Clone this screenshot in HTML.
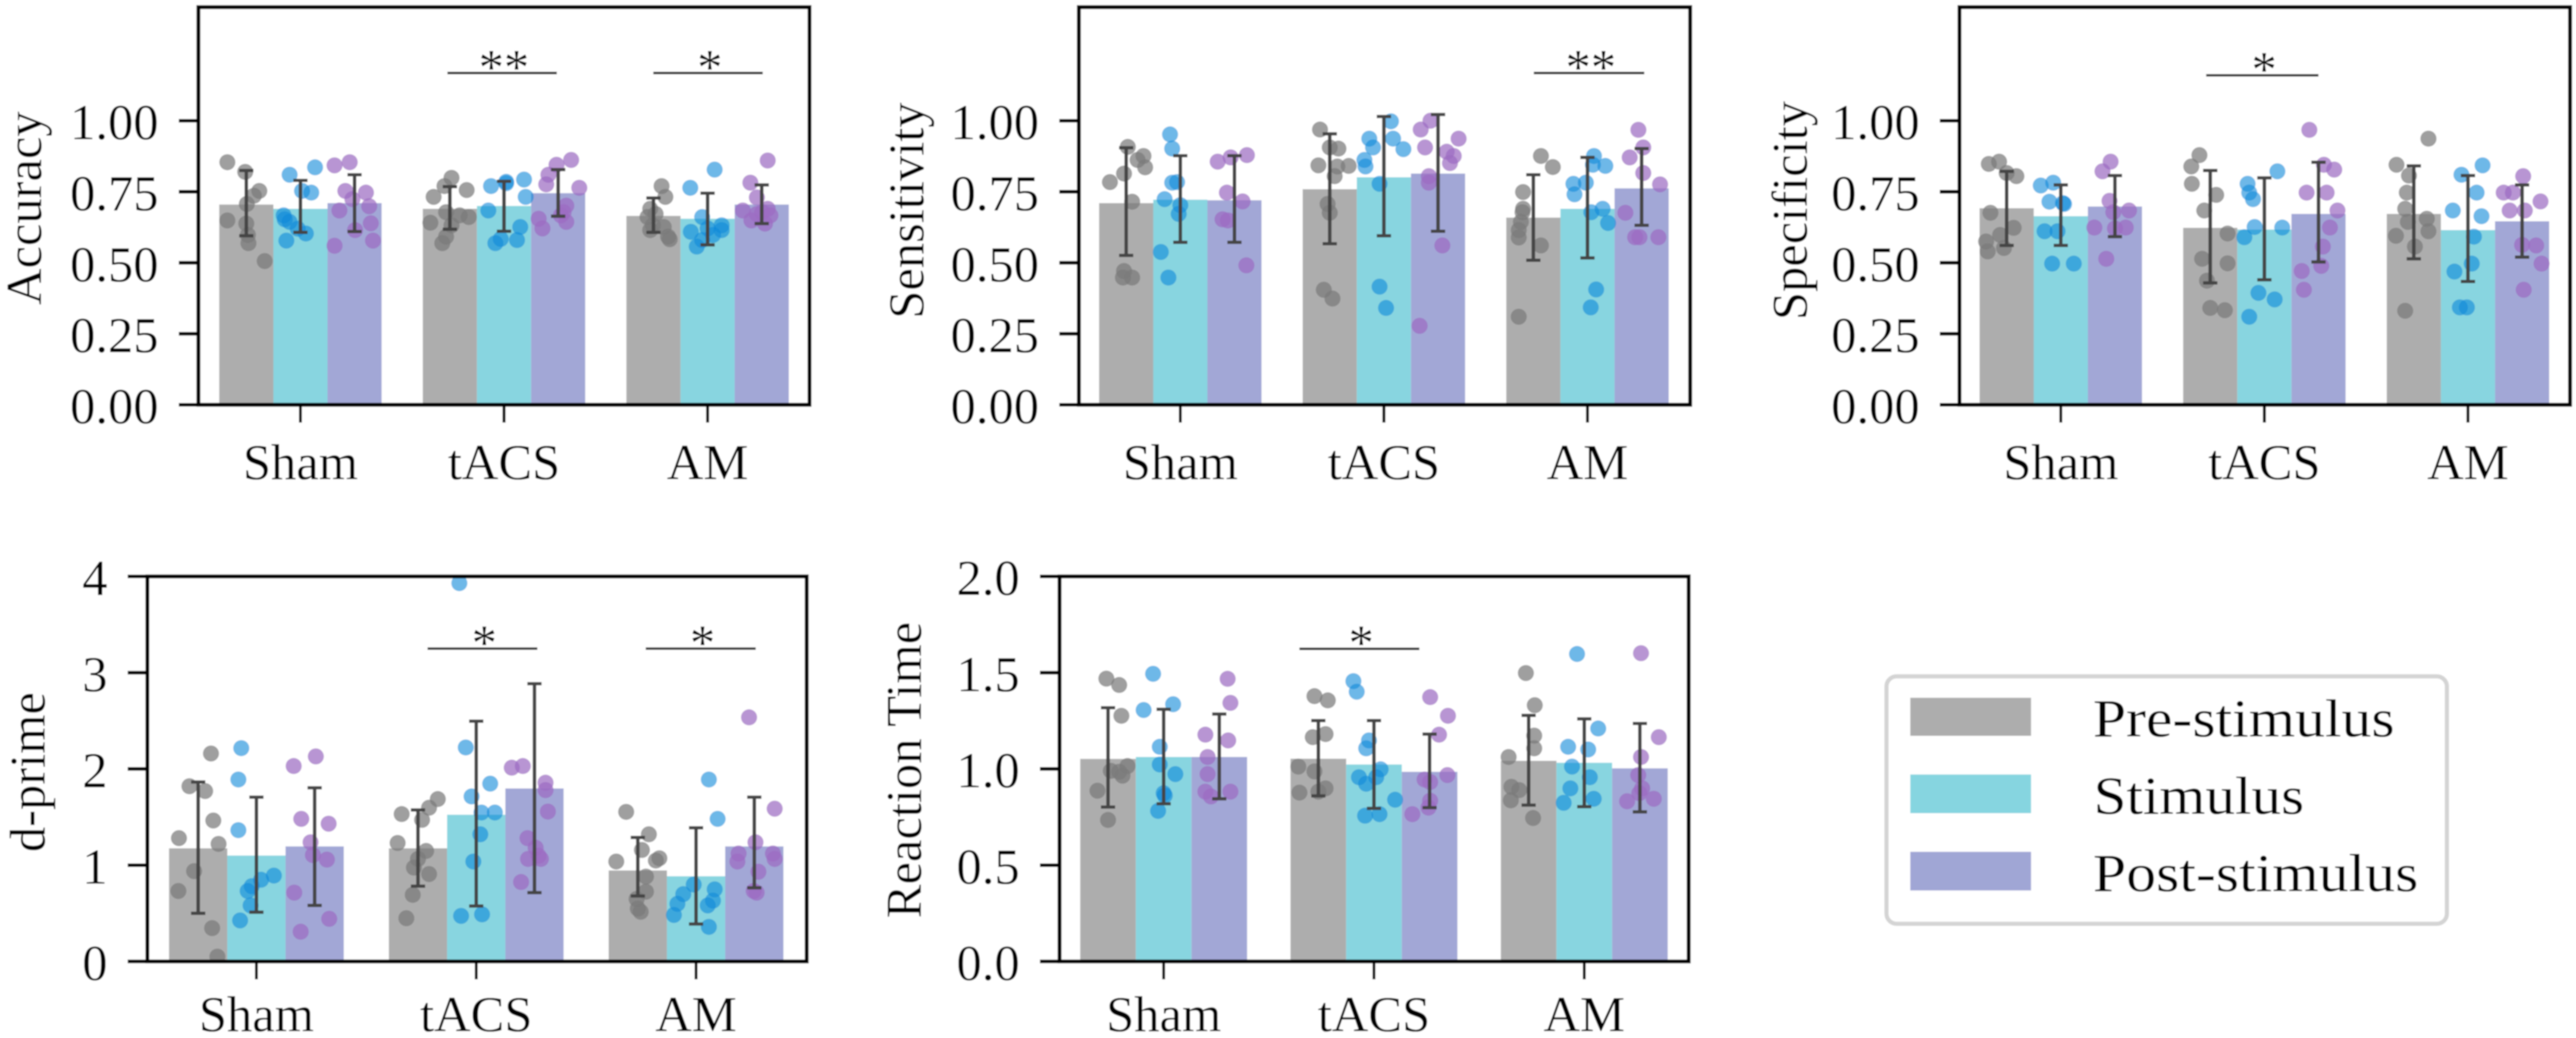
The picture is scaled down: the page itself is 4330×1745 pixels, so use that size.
<!DOCTYPE html>
<html lang="en">
<head>
<meta charset="utf-8">
<title>Behavioural metrics by stimulation condition</title>
<style>
html,body{margin:0;padding:0;background:#fff;width:4330px;height:1745px;overflow:hidden}
svg{display:block;font-family:"Liberation Serif","Times New Roman",serif;fill:#000}
</style>
</head>
<body>
<svg id="figure" xmlns="http://www.w3.org/2000/svg" width="4330" height="1745" viewBox="0 0 4330 1745">
  <defs><filter id="soft" x="0" y="0" width="100%" height="100%" filterUnits="objectBoundingBox"><feGaussianBlur stdDeviation="1"/></filter></defs>
  <rect x="0" y="0" width="4330" height="1745" fill="#fff"/>
  <g filter="url(#soft)">
  <rect x="0" y="0" width="4330" height="1745" fill="#fff"/>
  <g id="charts"></g>
  <g>
    <rect x="3171" y="1137" width="942" height="416" rx="17" ry="17" fill="#fff" stroke="#d4d4d4" stroke-width="7"/>
    <rect x="3211" y="1173" width="203" height="64" fill="#adadad"/>
    <rect x="3211" y="1302" width="203" height="65" fill="#86d5e0"/>
    <rect x="3211" y="1432" width="203" height="65" fill="#a0a6d5"/>
    <text x="3518" y="1238" font-size="90" textLength="507" lengthAdjust="spacingAndGlyphs">Pre-stimulus</text>
    <text x="3519" y="1368" font-size="90" textLength="354" lengthAdjust="spacingAndGlyphs">Stimulus</text>
    <text x="3518" y="1498" font-size="90" textLength="547" lengthAdjust="spacingAndGlyphs">Post-stimulus</text>
  </g>
  </g>
</svg>
<script>
const categories = ['Sham', 'tACS', 'AM'];
const conditions = ['pre-stimulus', 'stimulus', 'post-stimulus'];
const ticksUnit = ['0.00', '0.25', '0.50', '0.75', '1.00'];
const ticksDprime = ['0', '1', '2', '3', '4'];
const ticksRt = ['0.0', '0.5', '1.0', '1.5', '2.0'];

/* Each means/errors array is ordered group by group: Sham, tACS, AM; each with pre, stim, post. */
const accuracyMeans = [.705,.69,.71, .69,.70,.745, .665,.655,.705];
const accuracyErrHigh = [.825,.79,.81, .768,.787,.828, .728,.745,.774];
const accuracyErrLow = [.595,.607,.61, .618,.611,.664, .607,.563,.638];
const accuracyPointValues = [
 [.854,.82,.753,.736,.707,.649,.638,.569,.506,.598],
 [.81,.836,.753,.747,.667,.644,.578,.603,.62,.653],
 [.843,.854,.753,.747,.724,.699,.684,.639,.615,.578,.56],
 [.799,.732,.77,.756,.678,.667,.661,.641,.632,.592,.569],
 [.77,.785,.793,.732,.684,.626,.58,.569,.584,.78],
 [.862,.845,.81,.776,.764,.701,.678,.644,.655,.621,.667],
 [.77,.732,.69,.661,.632,.626,.615,.592,.583,.672],
 [.828,.764,.661,.632,.609,.598,.58,.557,.615,.621],
 [.86,.782,.73,.684,.69,.672,.649,.638,.678,.667]
];
const accuracyPointJitter = [
 [-.35,-.02,.24,.14,.01,-.35,0,.04,.34,.03],
 [-.2,.27,.03,.2,-.31,-.2,-.26,.1,-.05,-.29],
 [-.37,-.09,-.17,.21,-.04,.27,-.28,.3,.01,.34,-.37],
 [.03,-.3,-.1,.31,-.07,.18,.35,-.36,.03,-.07,-.14],
 [-.24,.04,.37,.4,-.29,.3,.24,-.16,-.06,.04],
 [.24,-.03,-.18,-.22,.39,.15,.1,.15,-.36,-.29,.05],
 [.15,.22,-.06,-.11,-.01,.19,-.06,.27,.3,.04],
 [.13,-.32,-.1,.26,-.31,.1,-.1,-.2,.26,0],
 [.11,-.21,-.09,-.35,.11,-.09,-.19,.06,.01,.16]
];

const sensitivityMeans = [.71,.722,.72, .759,.801,.814, .659,.69,.762];
const sensitivityErrHigh = [.905,.877,.877, .954,1.015,1.022, .81,.871,.902];
const sensitivityErrLow = [.526,.572,.572, .567,.595,.611, .509,.517,.632];
const sensitivityPointValues = [
 [.908,.876,.862,.836,.814,.784,.715,.471,.448,.448],
 [.952,.902,.784,.782,.724,.703,.672,.538,.448],
 [.879,.871,.856,.747,.716,.653,.649,.491],
 [.969,.906,.902,.843,.839,.841,.805,.707,.676,.405,.374],
 [.998,.937,.937,.906,.9,.862,.839,.778,.416,.341],
 [1.0,.969,.937,.906,.891,.876,.851,.805,.782,.561,.278],
 [.876,.837,.749,.69,.678,.644,.615,.589,.561,.31],
 [.876,.841,.845,.778,.782,.741,.69,.678,.64,.406,.343],
 [.968,.906,.871,.816,.776,.676,.59,.59,.59]
];
const sensitivityPointJitter = [
 [.03,.32,.21,.35,-.04,-.3,.11,-.04,.11,-.06],
 [-.19,-.15,-.06,-.15,-.29,0,-.03,-.36,-.22],
 [.23,-.07,-.31,-.14,.15,-.22,-.12,.22],
 [-.18,0,.16,-.21,.14,.35,.09,-.04,0,-.11,.05],
 [.13,-.27,.17,-.2,.36,-.36,-.34,-.08,-.08,.04],
 [-.14,-.32,.38,-.24,.16,.29,.22,-.17,-.17,.08,-.34],
 [.14,.36,-.19,-.19,-.2,-.23,-.27,-.27,.14,-.27],
 [.12,.33,.1,-.26,-.03,-.24,.28,.07,.38,.16,.06],
 [-.06,.03,-.22,.03,.34,-.3,-.04,.31,-.12]
];

const specificityMeans = [.692,.664,.698, .623,.617,.672, .672,.615,.646];
const specificityErrHigh = [.822,.774,.807, .825,.799,.854, .841,.807,.774];
const specificityErrLow = [.561,.561,.592, .429,.44,.503, .514,.434,.52];
const specificityPointValues = [
 [.848,.856,.805,.816,.676,.623,.598,.575,.54,.552],
 [.772,.782,.715,.71,.611,.611,.497,.497,.707],
 [.856,.822,.718,.684,.678,.624,.624,.621,.514],
 [.879,.839,.778,.739,.684,.603,.514,.498,.437,.341,.333],
 [.822,.778,.747,.724,.624,.626,.59,.394,.371,.31],
 [.968,.845,.828,.747,.747,.684,.624,.557,.489,.471,.405],
 [.937,.845,.807,.747,.69,.655,.644,.611,.595,.557,.331],
 [.843,.81,.747,.684,.664,.592,.497,.469,.343,.343],
 [.805,.747,.747,.716,.684,.684,.561,.563,.497,.405]
];
const specificityPointJitter = [
 [-.33,-.14,.18,0,-.3,.13,-.12,-.38,-.35,-.05],
 [-.37,-.14,-.21,.04,-.3,-.06,-.16,.24,.06],
 [-.08,-.23,-.1,.26,-.03,-.38,.2,0,-.16],
 [-.2,-.35,-.34,.11,-.11,.32,-.15,.32,-.06,0,.27],
 [.24,-.31,-.28,-.21,.33,-.18,-.37,-.11,.19,-.28],
 [-.17,.1,.29,-.22,.15,.35,.21,.08,.05,-.31,-.27],
 [.27,-.32,-.09,-.13,-.16,.24,-.11,.27,-.33,.02,-.16],
 [.27,-.12,.16,-.28,.25,.11,.07,-.25,-.15,-.02],
 [.02,-.34,-.17,.34,-.23,.05,.26,0,.36,.03]
];

const dprimeMeans = [1.175,1.10,1.195, 1.175,1.524,1.797, .945,.885,1.195];
const dprimeErrHigh = [1.864,1.707,1.804, 1.574,2.496,2.885, 1.288,1.388,1.707];
const dprimeErrLow = [.5,.512,.582, .782,.576,.715, .68,.389,.765];
const dprimePointValues = [
 [2.16,1.82,1.77,1.464,1.281,1.221,.938,.732,.346,.05],
 [2.216,1.89,1.364,.892,.849,.782,.732,.582,.426],
 [2.13,2.03,1.481,1.431,1.238,1.105,1.058,.715,.443,.309],
 [1.687,1.597,1.531,1.471,1.231,1.148,1.065,.975,.908,.692,.449],
 [3.93,2.223,1.847,1.714,1.547,1.547,1.321,1.038,.473,.489],
 [2.03,2.013,1.857,1.78,1.557,1.281,1.181,1.098,1.065,1.065,.825],
 [1.554,1.321,1.158,1.038,1.072,1.048,.882,.725,.649,.549,.516],
 [1.89,1.481,.799,.749,.699,.599,.632,.582,.483,.359],
 [2.536,1.587,1.238,1.121,1.121,1.038,1.065,.932,.732,.715]
];
const dprimePointJitter = [
 [.22,-.15,.12,.26,-.33,.35,-.07,-.34,.24,.33],
 [-.26,-.31,-.31,.3,.08,-.08,-.15,-.1,-.28],
 [.02,-.36,-.23,.24,-.07,-.03,.21,-.35,.25,-.24],
 [.34,.19,-.28,.07,-.35,.14,0,-.07,.19,-.09,-.2],
 [-.29,-.18,.24,-.08,.09,.32,.07,-.05,-.26,.1],
 [-.2,-.39,.19,.19,.23,-.12,.02,.07,-.11,.11,-.23],
 [-.2,.19,.07,-.37,.37,.31,.14,.14,-.02,0,.05],
 [.22,.37,-.04,.32,-.22,-.32,.29,.2,-.38,.22],
 [-.09,.35,.02,-.27,.32,-.29,.35,.07,-.01,.04]
];

const reactionMeans = [1.052,1.062,1.062, 1.053,1.023,.985, 1.042,1.032,1.003];
const reactionErrHigh = [1.318,1.31,1.285, 1.251,1.251,1.181, 1.278,1.26,1.236];
const reactionErrLow = [.802,.819,.845, .86,.795,.799, .812,.804,.777];
const reactionPointValues = [
 [1.469,1.436,1.276,1.015,.99,.965,.887,.735,.985],
 [1.494,1.336,1.306,1.115,1.023,.973,.874,.862,.782],
 [1.468,1.343,1.178,1.148,1.062,.973,.882,.882,.857],
 [1.378,1.356,1.181,1.165,1.012,.987,.877,.899,.882],
 [1.456,1.401,1.148,1.107,.998,.957,.957,.923,.84,.757,.765],
 [1.373,1.276,1.178,.968,.945,.932,.835,.799,.765],
 [1.498,1.331,1.173,1.107,1.062,.907,.837,.89,.745],
 [1.597,1.21,1.115,1.101,1.012,.957,.899,.824,.845],
 [1.601,1.165,1.062,.968,.899,.845,.832,.874]
];
const reactionPointJitter = [
 [-.03,.2,.24,.35,.05,.26,-.19,0,.2],
 [-.19,.17,-.36,-.07,-.07,.21,0,.02,-.1],
 [.15,.2,-.25,.16,-.21,-.21,-.25,.2,-.15],
 [-.07,.17,.13,-.1,-.36,-.07,-.34,.13,0],
 [-.37,-.31,-.09,-.14,.12,-.27,.04,-.14,.38,-.16,.1],
 [.01,.33,.17,.32,-.09,.01,.01,-.02,-.31],
 [-.05,.11,.1,.1,-.36,-.31,-.32,-.17,.08],
 [-.13,.25,-.29,.07,-.22,.1,-.25,-.37,.17],
 [.02,.34,.02,-.03,.04,.25,-.23,-.01]
];

/* Significance brackets: from/to on the category axis (0 = Sham), height on the value axis. */
const accuracySig = [[.725,1.264,1.168,'**'], [1.739,2.278,1.168,'*']];
const sensitivitySig = [[1.741,2.285,1.168,'**']];
const specificitySig = [[.716,1.269,1.16,'*']];
const dprimeSig = [[.78,1.28,3.25,'*'], [1.774,2.275,3.25,'*']];
const reactionSig = [[.649,1.221,1.624,'*']];

const barColors = ['#adadad', '#88d5e0', '#a2a7d6'];
const dotColors = ['#7a7a7a', '#0e89d9', '#9c6cc2'];
const dotAlpha = [0.72, 0.6, 0.72];
const NS = 'http://www.w3.org/2000/svg';
const root = document.getElementById('charts');

function mk(parent, tag, attrs, text) {
  const el = document.createElementNS(NS, tag);
  for (const k in attrs) el.setAttribute(k, attrs[k]);
  if (text !== undefined) el.textContent = text;
  parent.appendChild(el);
  return el;
}

function drawPanel(name, g, yMax, yTicks, title, means, errHigh, errLow, values, jitter, sig) {
  const y = v => g.bottom - (v / yMax) * (g.bottom - g.top);
  const groupX = i => g.tick0 + i * g.spacing;
  const barX = (i, s) => groupX(i) + (s - 1) * g.barW;

  const panel = mk(root, 'g', {});
  
  

  const clipId = name + '-clip';
  const clip = mk(panel, 'clipPath', {id: clipId});
  mk(clip, 'rect', {x: g.left, y: g.top, width: g.right - g.left, height: g.bottom - g.top});

  categories.forEach((cat, i) => {
    conditions.forEach((cond, s) => {
      const idx = i * 3 + s;
      const bar = mk(panel, 'rect', {x: barX(i, s) - g.barW / 2, y: y(means[idx]), width: g.barW, height: g.bottom - y(means[idx]), fill: barColors[s]});
      
      
    });
  });

  categories.forEach((cat, i) => {
    conditions.forEach((cond, s) => {
      const idx = i * 3 + s;
      const pts = mk(panel, 'g', {'clip-path': 'url(#' + clipId + ')'});
      
      
      values[idx].forEach((v, k) => {
        const dot = mk(pts, 'circle', {cx: barX(i, s) + jitter[idx][k] * g.barW, cy: y(v), r: 13.5, fill: dotColors[s], 'fill-opacity': dotAlpha[s]});
        
        
      });
    });
  });

  categories.forEach((cat, i) => {
    conditions.forEach((cond, s) => {
      const idx = i * 3 + s;
      const cx = barX(i, s);
      const eb = mk(panel, 'g', {stroke: '#444', fill: 'none'});
      
      
      mk(eb, 'line', {x1: cx, x2: cx, y1: y(errHigh[idx]), y2: y(errLow[idx]), 'stroke-width': 6});
      mk(eb, 'line', {x1: cx - 12, x2: cx + 12, y1: y(errHigh[idx]), y2: y(errHigh[idx]), 'stroke-width': 5.5});
      mk(eb, 'line', {x1: cx - 12, x2: cx + 12, y1: y(errLow[idx]), y2: y(errLow[idx]), 'stroke-width': 5.5});
    });
  });

  sig.forEach(item => {
    const x1 = g.sigTick0 + item[0] * g.sigSpacing;
    const x2 = g.sigTick0 + item[1] * g.sigSpacing;
    const line = mk(panel, 'line', {x1: x1, x2: x2, y1: y(item[2]), y2: y(item[2]), stroke: '#222', 'stroke-width': 4});
    
    
    const star = mk(panel, 'text', {x: (x1 + x2) / 2 + 3, y: y(item[2]) + 18.5, 'font-size': 85, 'text-anchor': 'middle'}, item[3]);
    
    
  });

  const frame = mk(panel, 'rect', {x: g.left, y: g.top, width: g.right - g.left, height: g.bottom - g.top, fill: 'none', stroke: '#000', 'stroke-width': 6.5});
  
  

  yTicks.forEach(label => {
    const v = parseFloat(label);
    const tick = mk(panel, 'line', {x1: g.left - 33, x2: g.left, y1: y(v), y2: y(v), stroke: '#000', 'stroke-width': 6});
    
    
    const tl = mk(panel, 'text', {x: g.left - 67, y: y(v) + 31, 'font-size': 85, 'text-anchor': 'end'}, label);
    
    
  });

  categories.forEach((cat, i) => {
    const tick = mk(panel, 'line', {x1: groupX(i), x2: groupX(i), y1: g.bottom, y2: g.bottom + 30, stroke: '#000', 'stroke-width': 5});
    
    
    const tl = mk(panel, 'text', {x: groupX(i), y: g.bottom + g.labelDrop, 'font-size': 85, 'text-anchor': 'middle'}, cat);
    
    
  });

  const yl = mk(panel, 'text', {transform: 'translate(' + g.titleX + ',' + g.titleY + ') rotate(-90)', 'font-size': 85, 'text-anchor': 'middle'}, title);
  
  
}

drawPanel('accuracy', {left:333.5,right:1360.7,top:12,bottom:680.5,tick0:505,spacing:342.2,barW:91,sigTick0:504.6,sigSpacing:341.3,titleX:69,titleY:350,labelDrop:125}, 1.4, ticksUnit, 'Accuracy', accuracyMeans, accuracyErrHigh, accuracyErrLow, accuracyPointValues, accuracyPointJitter, accuracySig);
drawPanel('sensitivity', {left:1813.5,right:2841,top:12,bottom:680.5,tick0:1984,spacing:342.2,barW:91,sigTick0:1984,sigSpacing:341.3,titleX:1552,titleY:354,labelDrop:125}, 1.4, ticksUnit, 'Sensitivity', sensitivityMeans, sensitivityErrHigh, sensitivityErrLow, sensitivityPointValues, sensitivityPointJitter, sensitivitySig);
drawPanel('specificity', {left:3293.7,right:4320,top:12,bottom:680.5,tick0:3464,spacing:342.2,barW:91,sigTick0:3464,sigSpacing:341.3,titleX:3037,titleY:354,labelDrop:125}, 1.4, ticksUnit, 'Specificity', specificityMeans, specificityErrHigh, specificityErrLow, specificityPointValues, specificityPointJitter, specificitySig);
drawPanel('d-prime', {left:247.7,right:1356,top:969,bottom:1616.3,tick0:431,spacing:369.5,barW:97.9,sigTick0:431,sigSpacing:368.9,titleX:75,titleY:1298,labelDrop:117}, 4, ticksDprime, 'd-prime', dprimeMeans, dprimeErrHigh, dprimeErrLow, dprimePointValues, dprimePointJitter, dprimeSig);
drawPanel('reaction-time', {left:1781,right:2838.5,top:969,bottom:1616.3,tick0:1956,spacing:353.5,barW:93.5,sigTick0:1955.6,sigSpacing:352.3,titleX:1548,titleY:1294.5,labelDrop:117}, 2, ticksRt, 'Reaction Time', reactionMeans, reactionErrHigh, reactionErrLow, reactionPointValues, reactionPointJitter, reactionSig);
</script>
</body>
</html>
